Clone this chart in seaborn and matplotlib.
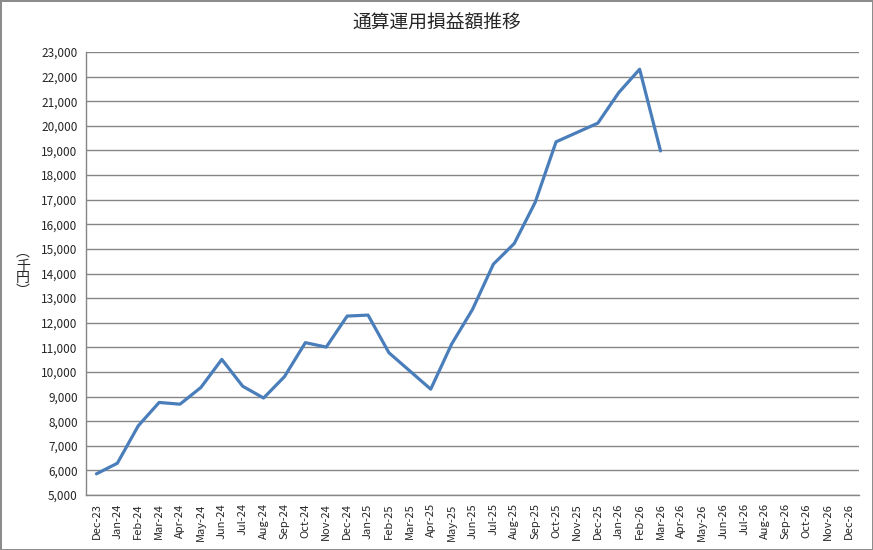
import numpy as np
import pandas as pd
import matplotlib
matplotlib.use("Agg")
import matplotlib.pyplot as plt
import seaborn as sns

# months on the category axis
months = ["Dec-23", "Jan-24", "Feb-24", "Mar-24", "Apr-24", "May-24", "Jun-24",
          "Jul-24", "Aug-24", "Sep-24", "Oct-24", "Nov-24", "Dec-24", "Jan-25",
          "Feb-25", "Mar-25", "Apr-25", "May-25", "Jun-25", "Jul-25", "Aug-25",
          "Sep-25", "Oct-25", "Nov-25", "Dec-25", "Jan-26", "Feb-26", "Mar-26",
          "Apr-26", "May-26", "Jun-26", "Jul-26", "Aug-26", "Sep-26", "Oct-26",
          "Nov-26", "Dec-26"]

# cumulative P/L (thousand yen), available through Mar-26
profit = [5860, 6290, 7810, 8760, 8690, 9370, 10510, 9420, 8940, 9810,
          11190, 11010, 12270, 12310, 10780, 10040, 9300, 11130, 12540,
          14380, 15220, 16890, 19350, 19730, 20110, 21350, 22300, 18980]

df = pd.DataFrame({"idx": np.arange(len(profit)), "profit": profit})

sns.set_style("white")
plt.rcParams['font.family'] = ['Noto Sans CJK JP', 'DejaVu Sans']

fig = plt.figure(figsize=(8.73, 5.5), dpi=100, edgecolor="#8c8c8c", linewidth=2)
ax = fig.add_axes([86 / 873, 1 - 495 / 550, (859 - 86) / 873, (495 - 52) / 550])

sns.lineplot(data=df, x="idx", y="profit", ax=ax, color="#4a7ebb", linewidth=2.3)

ax.set_xlim(-0.5, len(months) - 0.5)
ax.set_ylim(5000, 23000)
ax.set_yticks(np.arange(5000, 23001, 1000))
ax.set_yticklabels([f"{v:,}" for v in range(5000, 23001, 1000)], fontsize=8.5)
ax.set_xticks(np.arange(len(months)))
ax.set_xticklabels(months, rotation=90, fontsize=8)
ax.set_xticks(np.arange(-0.5, len(months)), minor=True)
ax.tick_params(axis="x", which="major", length=0, pad=6)
ax.tick_params(axis="x", which="minor", length=4, color="#868686", direction="out")
ax.tick_params(axis="y", length=4, color="#868686", direction="out", pad=2)
ax.yaxis.grid(True, color="#868686", linewidth=1)
ax.xaxis.grid(False)
ax.set_xlabel("")
ax.set_ylabel("")
for side in ["top", "right"]:
    ax.spines[side].set_visible(False)
for side in ["left", "bottom"]:
    ax.spines[side].set_color("#868686")
    ax.spines[side].set_linewidth(1)

fig.text(437 / 873, 1 - 23 / 550, "通算運用損益額推移", ha="center", va="center", fontsize=13.5)
fig.text(23 / 873, 1 - 272 / 550, "︵\n千\n円\n︶", ha="center", va="center",
         fontsize=10, linespacing=0.9)

fig.savefig("out.png", dpi=100)
